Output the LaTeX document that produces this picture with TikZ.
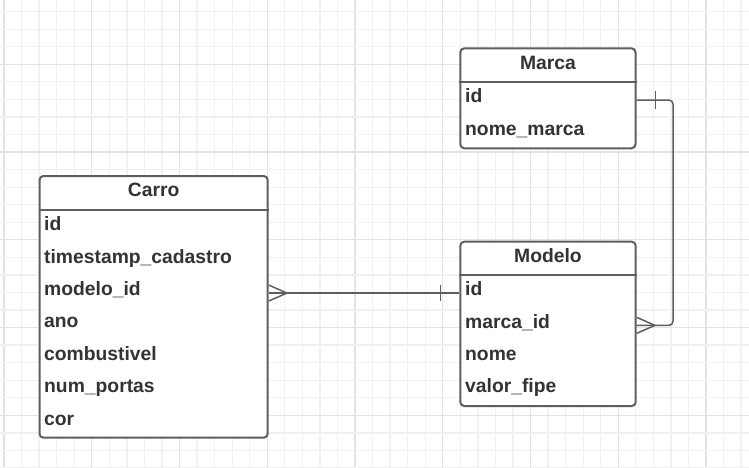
\documentclass[tikz,border=0pt]{standalone}
\usepackage{fontspec}
\setmainfont{Liberation Sans}
\usepackage{xcolor}
\usepackage{tikz}
\usetikzlibrary{positioning}

\definecolor{gridminor}{HTML}{F1F1F1}
\definecolor{gridmajor}{HTML}{E3E3E3}
\definecolor{edgecol}{HTML}{5E5E5E}
\definecolor{textcol}{HTML}{333333}

\tikzset{
  table/.style={draw=edgecol, line width=2pt, rounded corners=4pt, fill=white,
    inner sep=0pt, anchor=north west},
  title/.style={anchor=base, inner sep=0pt, text=textcol,
    font=\fontsize{19.3}{23}\selectfont\bfseries},
  field/.style={anchor=base west, inner sep=0pt, text=textcol,
    font=\fontsize{19.3}{23}\selectfont\bfseries},
  link/.style={draw=edgecol, line width=1.5pt},
}

\begin{document}
\begin{tikzpicture}[x=1pt,y=-1pt]
\useasboundingbox (0,0) rectangle (749,468);
% background grid
\fill[white] (0,0) rectangle (749,468);
\foreach \k in {0,...,42}{
  \pgfmathsetmacro\gx{4+17.55*\k}
  \pgfmathtruncatemacro\ismaj{mod(\k,5)==0}
  \ifnum\ismaj=1 \draw[gridmajor,line width=1.3pt] (\gx,0) -- (\gx,468);
  \else \draw[gridminor,line width=1.3pt] (\gx,0) -- (\gx,468); \fi
}
\foreach \k in {-3,...,23}{
  \pgfmathsetmacro\gy{64.3+17.55*\k}
  \pgfmathtruncatemacro\ismaj{mod(\k+5,5)==0}
  \ifnum\ismaj=1 \draw[gridmajor,line width=1.3pt] (0,\gy) -- (749,\gy);
  \else \draw[gridminor,line width=1.3pt] (0,\gy) -- (749,\gy); \fi
}

% tables
\node[table, minimum width=228.2pt, minimum height=261.7pt] (carro) at (38.5,175) {};
\node[table, minimum width=175.2pt, minimum height=100pt] (marca) at (459.3,47.3) {};
\node[table, minimum width=175.4pt, minimum height=164.3pt] (modelo) at (459.3,240.7) {};

\draw[edgecol, line width=2pt] ([yshift=-35pt]carro.north west) -- ([yshift=-35pt]carro.north east);
\draw[edgecol, line width=2pt] ([yshift=-35pt]marca.north west) -- ([yshift=-35pt]marca.north east);
\draw[edgecol, line width=2pt] ([yshift=-34.5pt]modelo.north west) -- ([yshift=-34.5pt]modelo.north east);

\node[title] (carro-t) at ([yshift=-21.7pt]carro.north) {Carro};
\node[title] (marca-t) at ([yshift=-22pt]marca.north) {Marca};
\node[title] (modelo-t) at ([yshift=-21.6pt]modelo.north) {Modelo};

\foreach \f [count=\i from 0] in {id,timestamp\_cadastro,modelo\_id,ano,combustivel,num\_portas,cor}
  \node[field] (carro-\i) at ([xshift=5.5pt,yshift={-55.7pt-32.4pt*\i}]carro.north west) {\f};
\foreach \f [count=\i from 0] in {id,nome\_marca}
  \node[field] (marca-\i) at ([xshift=5.7pt,yshift={-55.4pt-33pt*\i}]marca.north west) {\f};
\foreach \f [count=\i from 0] in {id,marca\_id,nome,valor\_fipe}
  \node[field] (modelo-\i) at ([xshift=5.7pt,yshift={-55pt-32.3pt*\i}]modelo.north west) {\f};

% Carro >--| Modelo
\coordinate (a) at (carro.east |- modelo-0.mid);
\coordinate (b) at (modelo.west |- modelo-0.mid);
\draw[link] (a) -- (b);
\draw[link] ([yshift=8pt]a) -- ([xshift=18.3pt]a) -- ([yshift=-8pt]a);
\draw[link] ([xshift=-18.6pt,yshift=8pt]b) -- ([xshift=-18.6pt,yshift=-8pt]b);

% Marca |--< Modelo
\coordinate (c) at (marca.east |- marca-0.mid);
\coordinate (d) at (modelo.east |- modelo-1.mid);
\draw[link, rounded corners=4pt] (c) -- ++(36.5,0) |- (d);
\draw[link] ([yshift=8pt]d) -- ([xshift=18.3pt]d) -- ([yshift=-8pt]d);
\draw[link] ([xshift=18.8pt,yshift=9pt]c) -- ([xshift=18.8pt,yshift=-9pt]c);
\end{tikzpicture}
\end{document}
